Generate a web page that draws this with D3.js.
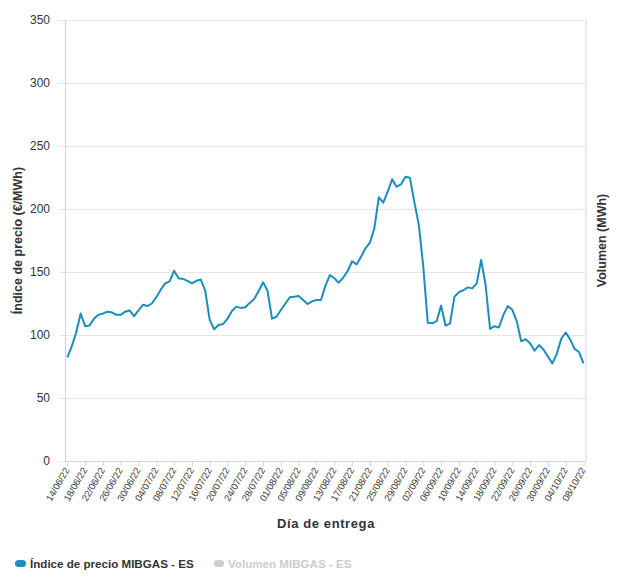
<!DOCTYPE html>
<html><head><meta charset="utf-8">
<script src="https://cdn.jsdelivr.net/npm/d3@7"></script>
<style>
html,body{margin:0;padding:0;background:#fff;}
svg{display:block;font-family:"Liberation Sans",Arial,sans-serif;}
</style></head>
<body><svg id="c" width="617" height="577"></svg>
<script>
const startDate = "2022-06-14";
const prices = [
82.3,91,102,117,107,107.5,113,116,117,118.5,
118,116,116,118.5,119.5,115,119.5,124,123,125,
130,136,141,142.5,151,145,144.5,143,141,143,
144,135,112,104.5,108,108.7,113,119,122.5,121.5,
122,125.5,128.5,135,141.8,135,113,114.5,119.8,125,
129.9,130.4,131,127.8,124.6,126.7,127.8,127.8,139,147.6,
145,141.5,145.5,150.8,158.5,156,162,168.8,173.3,184.7,
209.3,205,213.7,223.6,217.7,219.6,225.6,224.8,205.3,187.3,
154,109.8,109.3,111,123.3,107.4,109,130.4,134,135.5,
137.8,137,141,159.5,139.7,104.8,107,106,116,123,
120,111,95,96.6,93.4,87.5,92,88.5,83,77.5,
85,97,102,96.5,89,86.5,77.5
];
const yTicks = [0,50,100,150,200,250,300,350];
const tickEveryDays = 4;
const seriesName = "Índice de precio MIBGAS - ES";
const series2Name = "Volumen MIBGAS - ES";
const yTitle = "Índice de precio (€/MWh)";
const y2Title = "Volumen (MWh)";
const xTitle = "Día de entrega";

const parse = d3.utcParse("%Y-%m-%d");
const d0 = parse(startDate);
const data = prices.map((v,i)=>({date:d3.utcDay.offset(d0,i), v}));
const dEnd = data[data.length-1].date;

const svg = d3.select("#c");
const L=65.5, R=586, T=20, B=461;
const x = d3.scaleUtc().domain([d0,dEnd]).range([67.3,583.5]);
const y = d3.scaleLinear().domain([0,350]).range([B,T]);

svg.append("g").selectAll("line").data(yTicks).join("line")
  .attr("x1",L-6).attr("x2",R).attr("y1",d=>Math.round(y(d))+0.5).attr("y2",d=>Math.round(y(d))+0.5)
  .attr("stroke","#e6e6e6").attr("stroke-width",1);
svg.append("g").selectAll("text").data(yTicks).join("text")
  .attr("x",50).attr("y",d=>y(d)+4).attr("text-anchor","end")
  .attr("font-size",12).attr("fill","#333").text(d=>d);
svg.append("line").attr("x1",L).attr("x2",L).attr("y1",T).attr("y2",B).attr("stroke","#ccd6eb");
svg.append("line").attr("x1",R).attr("x2",R).attr("y1",T).attr("y2",B).attr("stroke","#ccd6eb");
svg.append("line").attr("x1",L).attr("x2",R).attr("y1",B+0.5).attr("y2",B+0.5).attr("stroke","#ccd6eb");

const xTickVals = d3.range(0, prices.length, tickEveryDays).map(i=>d3.utcDay.offset(d0,i));
const fmt = d3.utcFormat("%d/%m/%y");
const xa = svg.append("g").attr("transform",`translate(0,${B})`)
  .call(d3.axisBottom(x).tickValues(xTickVals).tickFormat(fmt).tickSize(5).tickPadding(0));
xa.select(".domain").remove();
xa.selectAll(".tick line").attr("stroke","#ccd6eb");
xa.selectAll(".tick text")
  .attr("font-size",9.5).attr("fill","#333").attr("font-family","'Liberation Sans',Arial,sans-serif")
  .attr("text-anchor","end").attr("dy",null).attr("y",0)
  .attr("transform","translate(2,9) rotate(-60)");

const line = d3.line().x(d=>x(d.date)).y(d=>y(d.v));
svg.append("path").datum(data).attr("d",line)
  .attr("fill","none").attr("stroke","#1a8fbc").attr("stroke-width",2).attr("stroke-linejoin","round");

svg.append("text").attr("transform",`translate(22,${(T+B)/2}) rotate(-90)`)
  .attr("text-anchor","middle").attr("font-size",12.5).attr("font-weight","bold").attr("fill","#333").text(yTitle);
svg.append("text").attr("transform",`translate(606,${(T+B)/2}) rotate(-90)`)
  .attr("text-anchor","middle").attr("font-size",12.5).attr("font-weight","bold").attr("fill","#333").text(y2Title);
svg.append("text").attr("x",326).attr("y",528).attr("text-anchor","middle")
  .attr("font-size",13).attr("font-weight","bold").attr("fill","#333").attr("letter-spacing",0.6).text(xTitle);

const lg = svg.append("g");
lg.append("rect").attr("x",15).attr("y",560).attr("width",11).attr("height",7).attr("rx",3.5).attr("fill","#1a8fbc");
lg.append("text").attr("x",30).attr("y",568).attr("font-size",11.6).attr("font-weight","bold").attr("fill","#333").text(seriesName);
lg.append("rect").attr("x",214).attr("y",560).attr("width",10).attr("height",7).attr("rx",3.5).attr("fill","#cccccc");
lg.append("text").attr("x",228).attr("y",568).attr("font-size",11.6).attr("font-weight","bold").attr("fill","#cccccc").text(series2Name);
</script></body></html>
